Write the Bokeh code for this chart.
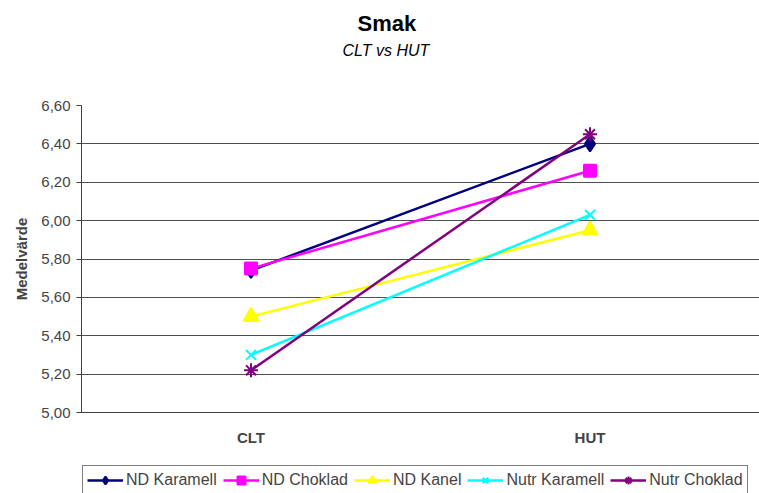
from bokeh.plotting import figure
from bokeh.layouts import column
from bokeh.models import (FactorRange, Range1d, FixedTicker, CustomJSTickFormatter,
                          Legend, LegendItem, Title)
from bokeh.embed import file_html
from bokeh.resources import INLINE

categories = ["CLT", "HUT"]
series_names = ["ND Karamell", "ND Choklad", "ND Kanel", "Nutr Karamell", "Nutr Choklad"]
nd_karamell = [5.74, 6.40]
nd_choklad = [5.75, 6.26]
nd_kanel = [5.50, 5.95]
nutr_karamell = [5.30, 6.03]
nutr_choklad = [5.22, 6.45]
y_ticks = [5.00, 5.20, 5.40, 5.60, 5.80, 6.00, 6.20, 6.40, 6.60]

series_values = [nd_karamell, nd_choklad, nd_kanel, nutr_karamell, nutr_choklad]
colors = ["#000080", "#FF00FF", "#FFFF00", "#00FFFF", "#800080"]
markers = ["diamond", "square", "triangle", "x", "asterisk"]
sizes = [15, 12, 15, 14, 14]

FONT = "Liberation Sans"

p = figure(frame_width=678, frame_height=307, output_backend="svg", toolbar_location=None,
           x_range=FactorRange(factors=categories, range_padding=0),
           y_range=Range1d(5.0, 6.6),
           min_border_left=81, min_border_right=0, min_border_bottom=50, min_border_top=105)
p.outline_line_color = None
p.background_fill_color = "white"

# spacer between plot frame and subtitle
p.add_layout(Title(text=" ", text_font_size="1px", standoff=43), "above")
p.add_layout(Title(text="CLT vs HUT", align="left", text_font=FONT,
                   text_font_style="italic", text_font_size="16px", offset=261,
                   standoff=2, text_color="black"), "above")
p.add_layout(Title(text="Smak", align="left", text_font=FONT,
                   text_font_style="bold", text_font_size="22px", offset=276,
                   standoff=6, text_color="black"), "above")

p.yaxis.ticker = FixedTicker(ticks=y_ticks)
p.yaxis.formatter = CustomJSTickFormatter(code="return tick.toFixed(2).replace('.', ',');")
p.yaxis.axis_label = "Medelvärde"
p.yaxis.axis_label_text_font = FONT
p.yaxis.axis_label_text_font_style = "bold"
p.yaxis.axis_label_text_font_size = "15px"
p.yaxis.axis_label_standoff = 8
p.yaxis.major_label_text_font = FONT
p.yaxis.major_label_text_font_size = "15px"
p.yaxis.major_label_standoff = 6
p.yaxis.minor_tick_line_color = None
p.yaxis.major_tick_in = 0
p.yaxis.major_tick_out = 5
p.yaxis.axis_line_color = "#404040"
p.yaxis.major_tick_line_color = "#404040"

p.xaxis.major_label_text_font = FONT
p.xaxis.major_label_text_font_style = "bold"
p.xaxis.major_label_text_font_size = "15px"
p.xaxis.major_tick_line_color = None
p.xaxis.major_label_standoff = 10
p.xaxis.axis_line_color = "#404040"

p.xgrid.grid_line_color = None
p.ygrid.grid_line_color = "#505050"
p.ygrid.grid_line_alpha = 1.0

# legend strip below the chart (its own figure; series lie outside its visible range)
lf = figure(width=759, height=31, output_backend="svg", toolbar_location=None,
            x_range=FactorRange(factors=categories, range_padding=0),
            y_range=Range1d(0, 1), x_axis_location=None, y_axis_location=None,
            min_border_left=0, min_border_right=0, min_border_bottom=0, min_border_top=0)
lf.grid.visible = False
lf.outline_line_color = None

items = []
for name, vals, c, m, s in zip(series_names, series_values, colors, markers, sizes):
    src = dict(x=categories, y=vals)
    p.line(x="x", y="y", source=src, line_color=c, line_width=2.5)
    p.scatter(x="x", y="y", source=src, marker=m, size=s, line_color=c,
              fill_color=c, line_width=2)
    l1 = lf.line(x="x", y="y", source=src, line_color=c, line_width=2.5)
    l2 = lf.scatter(x="x", y="y", source=src, marker=m, size=s, line_color=c,
                    fill_color=c, line_width=2)
    items.append(LegendItem(label=name, renderers=[l1, l2]))

legend = Legend(items=items, orientation="horizontal", location=(1, -2),
                label_text_font=FONT, label_text_font_size="16px",
                border_line_color="black", border_line_width=1,
                padding=4, spacing=6, margin=0, glyph_width=36, glyph_height=20,
                label_standoff=3, label_height=20)
lf.add_layout(legend, "center")

layout = column(p, lf, spacing=0)
open("out.html", "w").write(file_html(layout, INLINE))
